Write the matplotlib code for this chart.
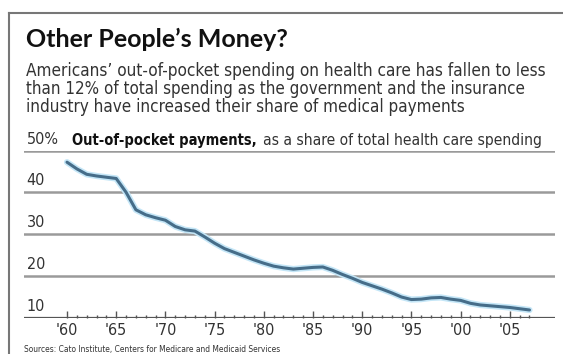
import numpy as np
import matplotlib.pyplot as plt
import matplotlib.patheffects as pe
from matplotlib.lines import Line2D

# out-of-pocket share of total health care spending
years = list(range(1960, 2008))
share = [47.2, 45.6, 44.3, 43.9, 43.6, 43.3, 40.0, 35.8, 34.6, 33.9,
         33.3, 31.8, 31.0, 30.7, 29.3, 27.8, 26.5, 25.6, 24.7, 23.8,
         23.0, 22.3, 21.9, 21.6, 21.8, 22.0, 22.1, 21.3, 20.3, 19.4,
         18.4, 17.6, 16.8, 15.9, 14.9, 14.3, 14.4, 14.7, 14.8, 14.4,
         14.1, 13.4, 13.0, 12.8, 12.6, 12.4, 12.1, 11.8]
grid_vals = [10, 20, 30, 40, 50]
grid_labels = ["10", "20", "30", "40", "50%"]
major_years = list(range(1960, 2006, 5))
major_labels = ["'60", "'65", "'70", "'75", "'80", "'85", "'90", "'95", "'00", "'05"]

W, H = 563, 354
narrow = dict(family=['DejaVu Sans'], fontstretch='condensed')

fig = plt.figure(figsize=(W / 100, H / 100), dpi=100)
fig.patch.set_facecolor('white')
renderer = fig.canvas.get_renderer()

def fx(px):
    return px / W

def fy(py):
    return 1 - py / H

def fit_text(x0, x1, y, s, size, **kw):
    # put a line of text between two x pixels by adjusting its size
    t = fig.text(fx(x0), fy(y), s, fontsize=size, va='baseline', **kw)
    w = t.get_window_extent(renderer).width
    t.set_fontsize(size * (x1 - x0) / w)
    return t

# frame
fig.add_artist(Line2D([fx(9), fx(9)], [fy(13), 0], color='#777777', lw=1.5))
fig.add_artist(Line2D([fx(9), 1], [fy(13), fy(13)], color='#777777', lw=1.5))

fit_text(26, 287, 47, "Other People\u2019s Money?", 19, fontweight='bold',
         family=['Lato', 'DejaVu Sans'], color='#111111')
sub = ["Americans\u2019 out-of-pocket spending on health care has fallen to less",
       "than 12% of total spending as the government and the insurance",
       "industry have increased their share of medical payments"]
sub_end = [548, 523, 465]
for i, s in enumerate(sub):
    fit_text(26, sub_end[i], 76 + i * 18, s, 11.5, color='#333333', **narrow)

fit_text(72, 258, 145, "Out-of-pocket payments,", 10.5, fontweight='bold',
         color='#111111', **narrow)
fit_text(263, 543, 145, "as a share of total health care spending", 10.5,
         color='#333333', **narrow)

ax = fig.add_axes([fx(24), fy(317.5), fx(555) - fx(24), fy(150.5) - fy(317.5)])
ax.set_xlim(1960 - (67 - 24) / 9.84, 1960 + (555 - 67) / 9.84)
ax.set_ylim(10, 50)
for s in ax.spines.values():
    s.set_visible(False)
ax.set_facecolor('none')

for v, lab in zip(grid_vals, grid_labels):
    if v == 10:
        ax.axhline(v, color='#555555', lw=1.6, zorder=1)
    else:
        ax.axhline(v, color='#9a9a9a', lw=1.8, zorder=1)
    ax.text(0.005, v + 0.9, lab, transform=ax.get_yaxis_transform(), fontsize=11.5,
            color='#333333', va='bottom', ha='left', **narrow)

ax.plot(years, share, color='#466d89', lw=2.2, solid_capstyle='round', zorder=3,
        path_effects=[pe.Stroke(linewidth=4.5, foreground='#c4e6f7'), pe.Normal()])

ax.set_yticks([])
ax.set_xticks(major_years)
ax.set_xticklabels(major_labels, fontsize=11.5, color='#333333', **narrow)
ax.set_xticks(range(1960, 2008), minor=True)
ax.tick_params(axis='x', which='major', direction='in', length=5, width=1, color='#555555', pad=4)
ax.tick_params(axis='x', which='minor', direction='in', length=2.5, width=1, color='#555555')

fit_text(24, 282, 352, "Sources: Cato Institute, Centers for Medicare and Medicaid Services",
         7, color='#333333', **narrow)

fig.savefig('out.png', dpi=100)
